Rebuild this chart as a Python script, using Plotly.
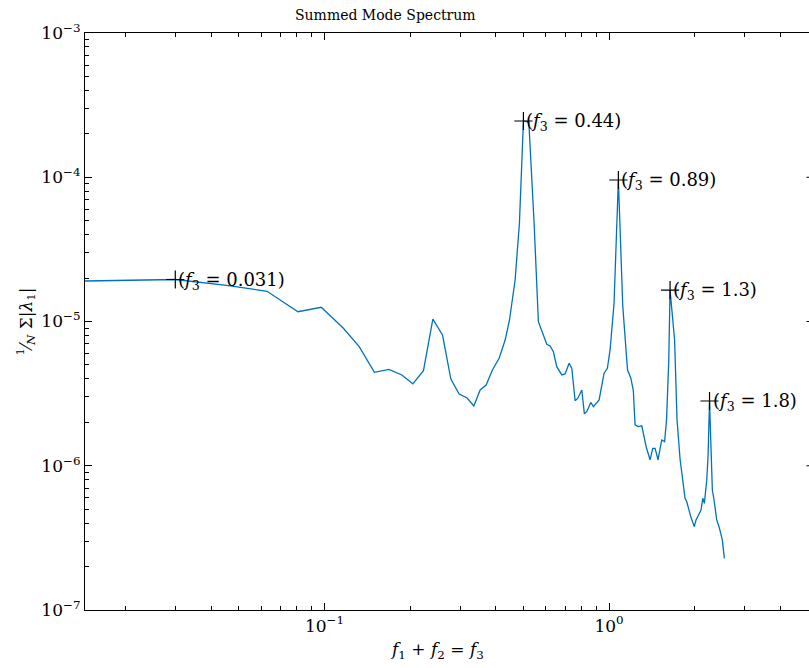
import numpy as np
import plotly.graph_objects as go

# Summed mode amplitude spectrum (frequency, mean |lambda_1|)
freq = [0.0144, 0.0299, 0.046, 0.0628, 0.0807, 0.0974, 0.1163, 0.1324, 0.1498, 0.1684,
        0.187, 0.2044, 0.2227, 0.2403, 0.2598, 0.278, 0.2972, 0.3164, 0.3348, 0.3523,
        0.3698, 0.3891, 0.4108, 0.4313, 0.4466, 0.4675, 0.4841, 0.5, 0.5224, 0.5451,
        0.5644, 0.5848, 0.6041, 0.6205, 0.6372, 0.6549, 0.6821, 0.7006, 0.7236, 0.7396,
        0.7597, 0.7765, 0.8019, 0.8188, 0.835, 0.8623, 0.8808, 0.9224, 0.9603, 0.9863,
        1.008, 1.041, 1.078, 1.117, 1.161, 1.192, 1.217, 1.234, 1.267, 1.303,
        1.327, 1.349, 1.393, 1.424, 1.451, 1.486, 1.531, 1.567, 1.592, 1.621,
        1.638, 1.699, 1.733, 1.776, 1.849, 1.875, 1.936, 1.993, 2.021, 2.059,
        2.104, 2.134, 2.162, 2.204, 2.227, 2.254, 2.306, 2.338, 2.389, 2.434,
        2.474, 2.5, 2.541]
amp = [1.909e-5, 1.955e-5, 1.776e-5, 1.62e-5, 1.169e-5, 1.254e-5, 9.01e-6, 6.69e-6, 4.44e-6, 4.66e-6,
       4.26e-6, 3.7e-6, 4.56e-6, 1.04e-5, 8.06e-6, 3.99e-6, 3.14e-6, 2.96e-6, 2.6e-6, 3.35e-6,
       3.63e-6, 4.61e-6, 5.56e-6, 7.44e-6, 1.02e-5, 1.94e-5, 4.8e-5, 2.454e-4, 2.415e-4, 4.82e-5,
       9.97e-6, 8.28e-6, 6.95e-6, 6.76e-6, 6.17e-6, 4.86e-6, 4.26e-6, 4.33e-6, 5.13e-6, 4.74e-6,
       2.82e-6, 2.94e-6, 3.35e-6, 2.29e-6, 2.37e-6, 2.75e-6, 2.57e-6, 2.86e-6, 4.38e-6, 4.74e-6,
       6.35e-6, 1.34e-5, 9.57e-5, 1.28e-5, 4.61e-6, 4.06e-6, 3.3e-6, 1.92e-6, 1.87e-6, 1.89e-6,
       1.59e-6, 1.36e-6, 1.1e-6, 1.32e-6, 1.32e-6, 1.1e-6, 1.51e-6, 1.47e-6, 2.08e-6, 5.41e-6,
       1.65e-5, 7.44e-6, 2.08e-6, 1.11e-6, 5.95e-7, 5.63e-7, 4.44e-7, 3.78e-7, 4.21e-7, 4.56e-7,
       4.93e-7, 5.95e-7, 5.49e-7, 7.96e-7, 1.155e-6, 2.81e-6, 6.79e-7, 5.79e-7, 4.21e-7, 3.78e-7,
       3.22e-7, 3.06e-7, 2.28e-7]

# Detected peaks (indices into freq/amp) and their f3 labels
peak_idx = [1, 27, 52, 70, 85]
peak_f3 = ["0.031", "0.44", "0.89", "1.3", "1.8"]

# Axis decades and their labels
x_decades = [-2, -1, 0]
y_decades = [-7, -6, -5, -4, -3]

SERIF = "DejaVu Serif"
W, H = 809, 668
L, R, T, B = 85, 0, 33, 58
x_range = [-1.8416, 0.7025]
y_range = [-7, -3]


def pow_label(d):
    return "10<sup>%s</sup>" % (str(d).replace("-", "\u2212"))


def minor_vals(decades):
    return [m * 10.0 ** d for d in decades for m in range(2, 10)]


px = [freq[i] for i in peak_idx]
py = [amp[i] for i in peak_idx]

fig = go.Figure()
fig.add_trace(go.Scatter(x=freq, y=amp, mode="lines",
                         line=dict(color="#0072BD", width=1.3),
                         showlegend=False, hoverinfo="skip"))
fig.add_trace(go.Scatter(x=px, y=py, mode="markers",
                         marker=dict(symbol="cross-thin", size=13,
                                     line=dict(color="black", width=1.2)),
                         showlegend=False, hoverinfo="skip"))

annotations = []
for xv, yv, lab in zip(px, py, peak_f3):
    annotations.append(dict(
        x=np.log10(xv), y=np.log10(yv), xref="x", yref="y",
        text=f"(<i>f</i><sub>3</sub> = {lab})", showarrow=False,
        xanchor="left", yanchor="middle", xshift=1, yshift=-1,
        font=dict(family=SERIF, size=18, color="black")))

pw = W - L - R
ph = H - T - B
# title and axis labels
annotations.append(dict(text="Summed Mode Spectrum", xref="paper", yref="paper",
                        x=(385 - L) / pw, y=1 + (T - 15) / ph, showarrow=False,
                        xanchor="center", yanchor="middle",
                        font=dict(family=SERIF, size=14, color="black")))
annotations.append(dict(text="<i>f</i><sub>1</sub> + <i>f</i><sub>2</sub> = <i>f</i><sub>3</sub>",
                        xref="paper", yref="paper",
                        x=(437 - L) / pw, y=-(650 - (H - B)) / ph, showarrow=False,
                        xanchor="center", yanchor="middle",
                        font=dict(family=SERIF, size=17, color="black")))
annotations.append(dict(text="<sup>1</sup>⁄<sub><i>N</i></sub> Σ|<i>λ</i><sub>1</sub>|",
                        xref="paper", yref="paper", textangle=-90,
                        x=(26 - L) / pw, y=0.5, showarrow=False,
                        xanchor="center", yanchor="middle",
                        font=dict(family=SERIF, size=17, color="black")))

# inward ticks of the right-hand frame edge
shapes = []
for d in y_decades[1:-1]:
    yf = (d - y_range[0]) / (y_range[1] - y_range[0])
    shapes.append(dict(type="line", xref="paper", yref="paper",
                       x0=1 - 2.5 / pw, x1=1.0, y0=yf, y1=yf,
                       line=dict(color="black", width=1)))


def axis_style(decades, rng, mirror):
    return dict(type="log", range=rng, showgrid=False, zeroline=False,
                showline=True, linecolor="black", linewidth=1.2, mirror=mirror,
                ticks="inside", ticklen=7, tickwidth=1, tickcolor="black",
                tickmode="array",
                tickvals=[10.0 ** d for d in decades],
                ticktext=[pow_label(d) for d in decades],
                tickfont=dict(family=SERIF, size=17, color="black"),
                minor=dict(tickmode="array", tickvals=minor_vals(decades),
                           ticks="inside", ticklen=4, tickwidth=1,
                           tickcolor="black", showgrid=False))


fig.update_layout(
    width=W, height=H,
    margin=dict(l=L, r=R, t=T, b=B, pad=0),
    paper_bgcolor="white", plot_bgcolor="white",
    xaxis=axis_style(x_decades, x_range, "ticks"),
    yaxis=axis_style(y_decades, y_range, False),
    annotations=annotations, shapes=shapes,
)

fig.write_html("out.html")
